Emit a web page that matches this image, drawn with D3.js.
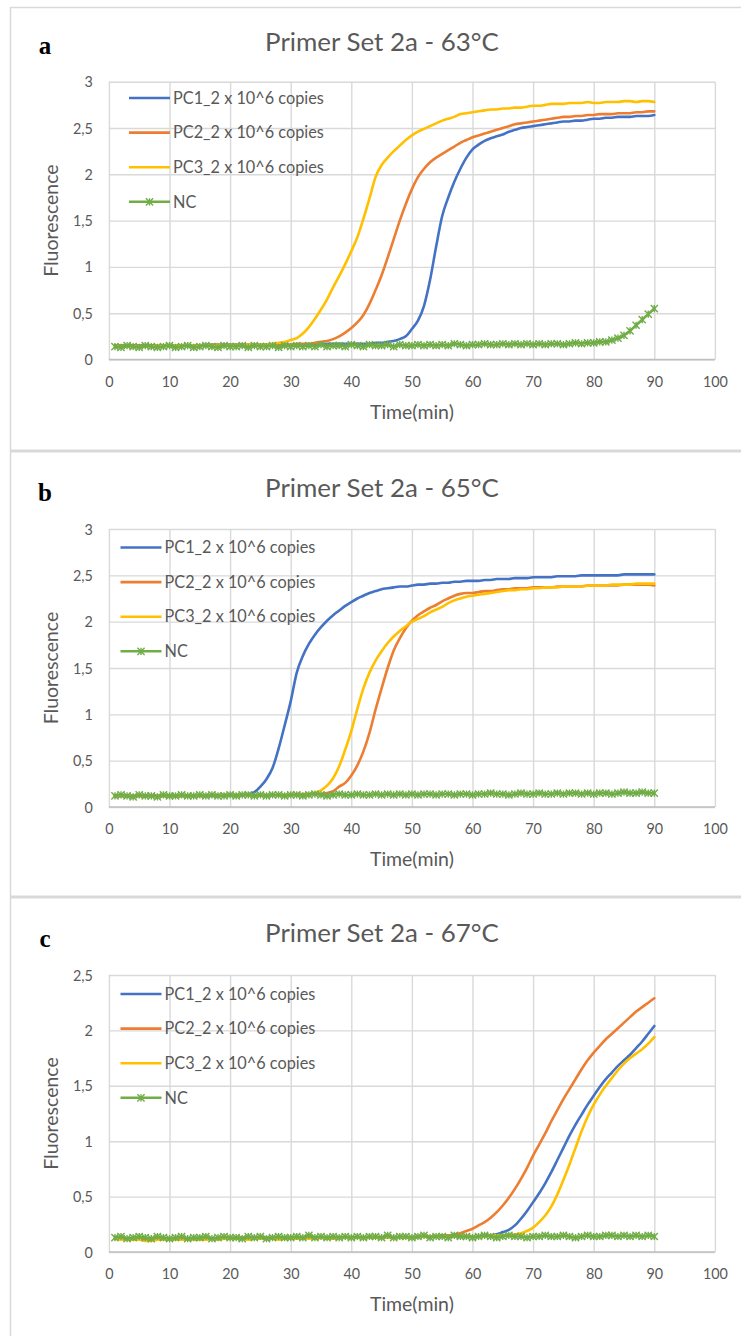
<!DOCTYPE html>
<html><head><meta charset="utf-8">
<script src="https://cdn.jsdelivr.net/npm/d3@7"></script>
<style>
body{margin:0;background:#fff;}
svg text{font-family:Lato,"Open Sans",sans-serif;}
</style></head>
<body><svg id="chart" width="741" height="1336"></svg>
<script>
// ---------- data ----------
const time = [1,2,3,4,5,6,7,8,9,10,11,12,13,14,15,16,17,18,19,20,21,22,23,24,25,26,27,28,29,30,
31,32,33,34,35,36,37,38,39,40,41,42,43,44,45,46,47,48,49,50,51,52,53,54,55,56,57,58,59,60,
61,62,63,64,65,66,67,68,69,70,71,72,73,74,75,76,77,78,79,80,81,82,83,84,85,86,87,88,89,90];
const xTicks = [0,10,20,30,40,50,60,70,80,90,100];
const xTickLabels = ["0","10","20","30","40","50","60","70","80","90","100"];
const yTicks3 = [0,0.5,1,1.5,2,2.5,3];
const yTickLabels3 = ["0","0,5","1","1,5","2","2,5","3"];
const yTicks25 = [0,0.5,1,1.5,2,2.5];
const yTickLabels25 = ["0","0,5","1","1,5","2","2,5"];
const seriesNames = ["PC1_2 x 10^6 copies","PC2_2 x 10^6 copies","PC3_2 x 10^6 copies","NC"];
const seriesColors = ["#4472C4","#ED7D31","#FFC000","#70AD47"];
const panelLetters = ["a","b","c"];
const panelTitles = ["Primer Set 2a - 63°C","Primer Set 2a - 65°C","Primer Set 2a - 67°C"];
const xTitle = "Time(min)";
const yTitle = "Fluorescence";

// Panel a (63°C)
const a_PC1 = [0.15,0.15,0.15,0.15,0.15,0.15,0.15,0.15,0.15,0.15,
0.15,0.15,0.15,0.15,0.15,0.16,0.16,0.16,0.16,0.16,
0.16,0.16,0.16,0.16,0.16,0.16,0.16,0.16,0.16,0.16,
0.16,0.16,0.16,0.16,0.16,0.17,0.17,0.17,0.17,0.17,
0.17,0.17,0.17,0.18,0.18,0.19,0.20,0.22,0.25,0.33,
0.42,0.58,0.86,1.22,1.55,1.75,1.92,2.06,2.18,2.27,
2.32,2.36,2.39,2.41,2.43,2.46,2.48,2.50,2.51,2.52,
2.53,2.54,2.55,2.56,2.57,2.57,2.58,2.58,2.59,2.60,
2.60,2.61,2.61,2.62,2.62,2.62,2.63,2.63,2.63,2.64];
const a_PC2 = [0.15,0.15,0.15,0.15,0.15,0.15,0.15,0.15,0.15,0.15,
0.15,0.15,0.15,0.15,0.15,0.15,0.16,0.16,0.16,0.16,
0.16,0.16,0.16,0.16,0.16,0.16,0.16,0.16,0.16,0.16,
0.17,0.17,0.17,0.18,0.19,0.20,0.22,0.25,0.29,0.34,
0.40,0.48,0.60,0.75,0.91,1.10,1.30,1.50,1.68,1.84,
1.97,2.06,2.13,2.18,2.22,2.26,2.30,2.34,2.37,2.40,
2.42,2.44,2.46,2.48,2.50,2.52,2.54,2.55,2.56,2.57,
2.58,2.59,2.60,2.61,2.62,2.62,2.63,2.63,2.64,2.64,
2.65,2.65,2.65,2.66,2.66,2.66,2.67,2.67,2.68,2.68];
const a_PC3 = [0.14,0.14,0.14,0.14,0.14,0.14,0.14,0.15,0.15,0.15,
0.15,0.15,0.15,0.15,0.15,0.15,0.15,0.15,0.15,0.15,
0.15,0.15,0.16,0.16,0.16,0.16,0.17,0.18,0.19,0.21,
0.23,0.28,0.35,0.44,0.54,0.65,0.78,0.90,1.03,1.17,
1.32,1.52,1.74,1.97,2.10,2.18,2.25,2.31,2.37,2.42,
2.46,2.49,2.52,2.55,2.58,2.60,2.62,2.65,2.66,2.67,
2.68,2.69,2.70,2.70,2.71,2.71,2.72,2.72,2.73,2.74,
2.74,2.75,2.76,2.76,2.76,2.77,2.77,2.77,2.78,2.77,
2.77,2.78,2.78,2.78,2.79,2.79,2.78,2.79,2.79,2.78];
const a_NC = [0.14,0.13,0.15,0.14,0.13,0.15,0.14,0.13,0.14,0.15,
0.13,0.14,0.15,0.13,0.14,0.15,0.14,0.13,0.15,0.14,
0.14,0.15,0.13,0.15,0.14,0.14,0.15,0.13,0.15,0.14,
0.15,0.14,0.15,0.14,0.16,0.14,0.15,0.15,0.14,0.16,
0.15,0.14,0.16,0.15,0.15,0.16,0.14,0.16,0.15,0.15,
0.16,0.15,0.16,0.15,0.16,0.15,0.17,0.16,0.15,0.16,
0.16,0.17,0.16,0.16,0.17,0.16,0.17,0.16,0.17,0.16,
0.17,0.16,0.17,0.17,0.16,0.17,0.18,0.17,0.18,0.18,
0.19,0.19,0.21,0.23,0.26,0.31,0.37,0.43,0.49,0.55];

// Panel b (65°C)
const b_PC1 = [0.12,0.12,0.12,0.12,0.12,0.12,0.12,0.12,0.12,0.12,
0.12,0.12,0.12,0.12,0.12,0.12,0.12,0.12,0.13,0.13,
0.13,0.13,0.14,0.16,0.22,0.30,0.42,0.63,0.88,1.14,
1.45,1.63,1.76,1.86,1.94,2.01,2.07,2.12,2.17,2.21,
2.25,2.28,2.31,2.33,2.35,2.36,2.37,2.38,2.38,2.39,
2.40,2.40,2.41,2.41,2.42,2.42,2.43,2.43,2.44,2.44,
2.44,2.45,2.45,2.46,2.46,2.46,2.47,2.47,2.47,2.48,
2.48,2.48,2.48,2.49,2.49,2.49,2.49,2.50,2.50,2.50,
2.50,2.50,2.50,2.50,2.51,2.51,2.51,2.51,2.51,2.51];
const b_PC2 = [0.12,0.12,0.12,0.12,0.12,0.12,0.12,0.12,0.12,0.12,
0.12,0.12,0.12,0.12,0.12,0.13,0.13,0.13,0.13,0.13,
0.13,0.13,0.13,0.13,0.13,0.13,0.13,0.13,0.13,0.13,
0.14,0.14,0.14,0.14,0.14,0.15,0.17,0.22,0.26,0.34,
0.45,0.60,0.80,1.05,1.28,1.50,1.69,1.82,1.93,2.01,
2.07,2.11,2.15,2.18,2.22,2.25,2.28,2.30,2.31,2.31,
2.32,2.33,2.33,2.34,2.35,2.35,2.36,2.36,2.36,2.37,
2.37,2.37,2.37,2.38,2.38,2.38,2.38,2.38,2.39,2.39,
2.39,2.39,2.39,2.39,2.40,2.40,2.40,2.40,2.40,2.39];
const b_PC3 = [0.12,0.12,0.12,0.12,0.12,0.12,0.12,0.12,0.12,0.12,
0.12,0.12,0.12,0.12,0.12,0.12,0.13,0.13,0.13,0.13,
0.13,0.13,0.13,0.13,0.13,0.13,0.13,0.13,0.13,0.13,
0.13,0.13,0.14,0.15,0.18,0.23,0.31,0.44,0.62,0.82,
1.06,1.28,1.45,1.58,1.68,1.77,1.84,1.90,1.95,2.00,
2.03,2.06,2.10,2.13,2.16,2.20,2.23,2.25,2.27,2.28,
2.29,2.30,2.31,2.32,2.33,2.34,2.34,2.35,2.35,2.36,
2.36,2.37,2.37,2.37,2.38,2.38,2.38,2.38,2.39,2.39,
2.39,2.39,2.40,2.40,2.40,2.40,2.41,2.41,2.41,2.41];
const b_NC = [0.12,0.13,0.12,0.11,0.13,0.12,0.12,0.11,0.13,0.12,
0.12,0.13,0.12,0.12,0.13,0.12,0.13,0.12,0.12,0.13,
0.12,0.13,0.13,0.12,0.13,0.12,0.13,0.13,0.12,0.13,
0.13,0.12,0.13,0.14,0.13,0.12,0.13,0.14,0.13,0.13,
0.14,0.13,0.13,0.14,0.13,0.14,0.13,0.14,0.13,0.14,
0.13,0.14,0.14,0.13,0.14,0.14,0.13,0.14,0.14,0.13,
0.14,0.14,0.15,0.14,0.14,0.13,0.14,0.15,0.14,0.14,
0.15,0.14,0.14,0.15,0.14,0.15,0.15,0.14,0.15,0.14,
0.15,0.15,0.14,0.15,0.16,0.15,0.15,0.16,0.15,0.15];

// Panel c (67°C)
const c_PC1 = [0.12,0.12,0.12,0.12,0.12,0.12,0.12,0.12,0.12,0.12,
0.12,0.12,0.12,0.12,0.12,0.12,0.12,0.12,0.12,0.12,
0.12,0.12,0.12,0.12,0.12,0.12,0.12,0.12,0.12,0.12,
0.13,0.13,0.13,0.13,0.13,0.13,0.13,0.13,0.13,0.13,
0.13,0.13,0.13,0.13,0.13,0.13,0.13,0.13,0.13,0.13,
0.14,0.14,0.14,0.14,0.14,0.14,0.14,0.14,0.14,0.14,
0.14,0.15,0.15,0.16,0.18,0.20,0.24,0.30,0.37,0.45,
0.53,0.62,0.72,0.83,0.94,1.05,1.15,1.24,1.33,1.41,
1.49,1.56,1.62,1.68,1.73,1.78,1.84,1.90,1.97,2.04];
const c_PC2 = [0.12,0.12,0.12,0.12,0.12,0.12,0.12,0.12,0.12,0.12,
0.12,0.12,0.12,0.12,0.12,0.12,0.12,0.12,0.12,0.12,
0.13,0.13,0.13,0.13,0.13,0.13,0.13,0.13,0.13,0.13,
0.13,0.13,0.13,0.13,0.13,0.13,0.13,0.13,0.13,0.13,
0.13,0.13,0.13,0.13,0.13,0.13,0.13,0.13,0.13,0.13,
0.14,0.14,0.14,0.14,0.15,0.15,0.16,0.17,0.19,0.21,
0.24,0.27,0.31,0.36,0.42,0.49,0.57,0.66,0.76,0.87,
0.97,1.07,1.18,1.28,1.38,1.47,1.56,1.65,1.73,1.80,
1.86,1.92,1.97,2.02,2.07,2.12,2.17,2.21,2.25,2.29];
const c_PC3 = [0.12,0.11,0.11,0.11,0.11,0.10,0.10,0.11,0.11,0.11,
0.11,0.11,0.11,0.11,0.11,0.11,0.12,0.11,0.12,0.12,
0.12,0.12,0.11,0.12,0.12,0.12,0.12,0.11,0.12,0.12,
0.12,0.12,0.12,0.12,0.13,0.12,0.12,0.13,0.13,0.13,
0.13,0.13,0.13,0.13,0.13,0.13,0.13,0.13,0.13,0.13,
0.13,0.14,0.14,0.14,0.14,0.14,0.14,0.14,0.14,0.14,
0.14,0.14,0.15,0.15,0.15,0.15,0.16,0.17,0.19,0.22,
0.27,0.33,0.41,0.52,0.65,0.79,0.94,1.09,1.22,1.33,
1.42,1.50,1.57,1.64,1.70,1.75,1.79,1.83,1.88,1.94];
const c_NC = [0.13,0.14,0.12,0.13,0.14,0.13,0.12,0.14,0.13,0.12,
0.13,0.14,0.12,0.13,0.13,0.14,0.12,0.13,0.14,0.13,
0.13,0.12,0.14,0.13,0.14,0.12,0.13,0.14,0.13,0.13,
0.14,0.13,0.15,0.13,0.14,0.13,0.14,0.13,0.14,0.13,
0.14,0.13,0.14,0.14,0.13,0.15,0.13,0.14,0.14,0.13,
0.14,0.15,0.13,0.14,0.14,0.13,0.15,0.14,0.14,0.13,
0.14,0.15,0.14,0.13,0.14,0.15,0.14,0.14,0.13,0.14,
0.14,0.15,0.14,0.14,0.15,0.14,0.13,0.14,0.15,0.14,
0.14,0.15,0.15,0.14,0.15,0.14,0.15,0.14,0.15,0.14];

// ---------- layout ----------
const panels = [
  {series:[a_PC1,a_PC2,a_PC3,a_NC], yTicks:yTicks3, yLabels:yTickLabels3, ymax:3,
   top:81.7, bottom:359.5, titleY:50.5, letterY:54, legX:129, legY:98},
  {series:[b_PC1,b_PC2,b_PC3,b_NC], yTicks:yTicks3, yLabels:yTickLabels3, ymax:3,
   top:529, bottom:807, titleY:496.5, letterY:501, legX:120.5, legY:547.5},
  {series:[c_PC1,c_PC2,c_PC3,c_NC], yTicks:yTicks25, yLabels:yTickLabels25, ymax:2.5,
   top:975, bottom:1252, titleY:942, letterY:947, legX:120.5, legY:994}
];
const xLeft = 108.9, xRight = 714.9;
const legGap = 34.6;
const textCol = "#595959";

const svg = d3.select("#chart");

// frame
svg.append("line").attr("x1",10.5).attr("x2",10.5).attr("y1",7).attr("y2",1336)
  .attr("stroke","#d9d9d9").attr("stroke-width",1.5);
svg.append("line").attr("x1",10).attr("x2",741).attr("y1",7.5).attr("y2",7.5)
  .attr("stroke","#d9d9d9").attr("stroke-width",1.5);
[451, 897].forEach(y => svg.append("line").attr("x1",10).attr("x2",741).attr("y1",y).attr("y2",y)
  .attr("stroke","#d9d9d9").attr("stroke-width",3));

function fitFont(sel, target){
  const w = sel.node().getComputedTextLength();
  const fs = parseFloat(sel.attr("font-size"));
  const nf = fs*target/w;
  sel.attr("font-size", nf);
  return nf;
}

function star(s){
  return `M${-s},${-s}L${s},${s}M${-s},${s}L${s},${-s}M0,${-s}L0,${s}`;
}

// measure fonts once
const probe = svg.append("text").attr("font-size",14).text("100");
const tickFS = fitFont(probe, 25); probe.remove();
const probe2 = svg.append("text").attr("font-size",14).text(seriesNames[0]);
const legFS = fitFont(probe2, 151); probe2.remove();
const probe3 = svg.append("text").attr("font-size",20).text(panelTitles[0]);
const titleFS = fitFont(probe3, 234); probe3.remove();
const probe4 = svg.append("text").attr("font-size",14).text(xTitle);
const axFS = fitFont(probe4, 84); probe4.remove();

panels.forEach((p, pi) => {
  const x = d3.scaleLinear().domain([0,100]).range([xLeft, xRight]);
  const y = d3.scaleLinear().domain([0,p.ymax]).range([p.bottom, p.top]);
  const g = svg.append("g");

  // gridlines
  const gx = g.append("g").attr("transform",`translate(0,${p.bottom})`)
    .call(d3.axisBottom(x).tickValues(xTicks).tickSize(-(p.bottom-p.top)).tickFormat(""));
  gx.select(".domain").remove();
  gx.selectAll("line").attr("stroke","#d9d9d9").attr("stroke-width",1.4);
  const gy = g.append("g").attr("transform",`translate(${xLeft},0)`)
    .call(d3.axisLeft(y).tickValues(p.yTicks).tickSize(-(xRight-xLeft)).tickFormat(""));
  gy.select(".domain").remove();
  gy.selectAll("line").attr("stroke","#d9d9d9").attr("stroke-width",1.4);
  // bottom axis line
  g.append("line").attr("x1",xLeft).attr("x2",xRight).attr("y1",p.bottom).attr("y2",p.bottom)
    .attr("stroke","#bfbfbf").attr("stroke-width",1.6);

  // tick labels
  const ax = g.append("g").attr("transform",`translate(0,${p.bottom})`)
    .call(d3.axisBottom(x).tickValues(xTicks).tickSize(0).tickPadding(0)
      .tickFormat((d,i)=>xTickLabels[i]));
  ax.select(".domain").remove();
  ax.selectAll("text").attr("y",27).attr("dy",null).attr("fill",textCol)
    .attr("font-size",tickFS).attr("font-family","Lato, 'Open Sans', sans-serif");
  const ay = g.append("g").attr("transform",`translate(${xLeft},0)`)
    .call(d3.axisLeft(y).tickValues(p.yTicks).tickSize(0).tickPadding(0)
      .tickFormat((d,i)=>p.yLabels[i]));
  ay.select(".domain").remove();
  ay.selectAll("text").attr("x",-16).attr("dy","0.35em").attr("fill",textCol)
    .attr("font-size",tickFS).attr("font-family","Lato, 'Open Sans', sans-serif");

  // axis titles
  g.append("text").attr("x",(xLeft+xRight)/2).attr("y",p.bottom+59)
    .attr("text-anchor","middle").attr("fill",textCol).attr("font-size",axFS).text(xTitle);
  g.append("text").attr("transform",`translate(50,${(p.top+p.bottom)/2}) rotate(-90)`)
    .attr("text-anchor","middle").attr("dominant-baseline","central")
    .attr("fill",textCol).attr("font-size",axFS).text(yTitle);

  // title & letter
  g.append("text").attr("x",382).attr("y",p.titleY).attr("text-anchor","middle")
    .attr("fill",textCol).attr("font-size",titleFS).text(panelTitles[pi]);
  g.append("text").attr("x",45).attr("y",p.letterY).attr("text-anchor","middle")
    .style("font-family","'Liberation Serif','Times New Roman',serif").attr("font-weight","bold")
    .attr("font-size",25).attr("fill","#000").text(panelLetters[pi]);

  // series
  const line = d3.line().x((d,i)=>x(time[i])).y(d=>y(d)).curve(d3.curveMonotoneX);
  p.series.forEach((s, si) => {
    g.append("path").datum(s).attr("d",line).attr("fill","none")
      .attr("stroke",seriesColors[si]).attr("stroke-width",2.6)
      .attr("stroke-linejoin","round").attr("stroke-linecap","round");
  });
  // NC markers
  const nc = p.series[3];
  g.append("g").selectAll("path").data(nc).join("path")
    .attr("transform",(d,i)=>`translate(${x(time[i])},${y(d)})`)
    .attr("d",star(3.6)).attr("fill","none").attr("stroke",seriesColors[3]).attr("stroke-width",1.4);

  // legend
  seriesNames.forEach((n, si) => {
    const ly = p.legY + si*legGap;
    g.append("line").attr("x1",p.legX).attr("x2",p.legX+41).attr("y1",ly).attr("y2",ly)
      .attr("stroke",seriesColors[si]).attr("stroke-width",2.6);
    if (si===3) g.append("path").attr("transform",`translate(${p.legX+20.5},${ly})`)
      .attr("d",star(3.6)).attr("fill","none").attr("stroke",seriesColors[3]).attr("stroke-width",1.4);
    g.append("text").attr("x",p.legX+44).attr("y",ly).attr("dy","0.35em")
      .attr("fill",textCol).attr("font-size",legFS).text(n);
  });
});
</script>
</body></html>
